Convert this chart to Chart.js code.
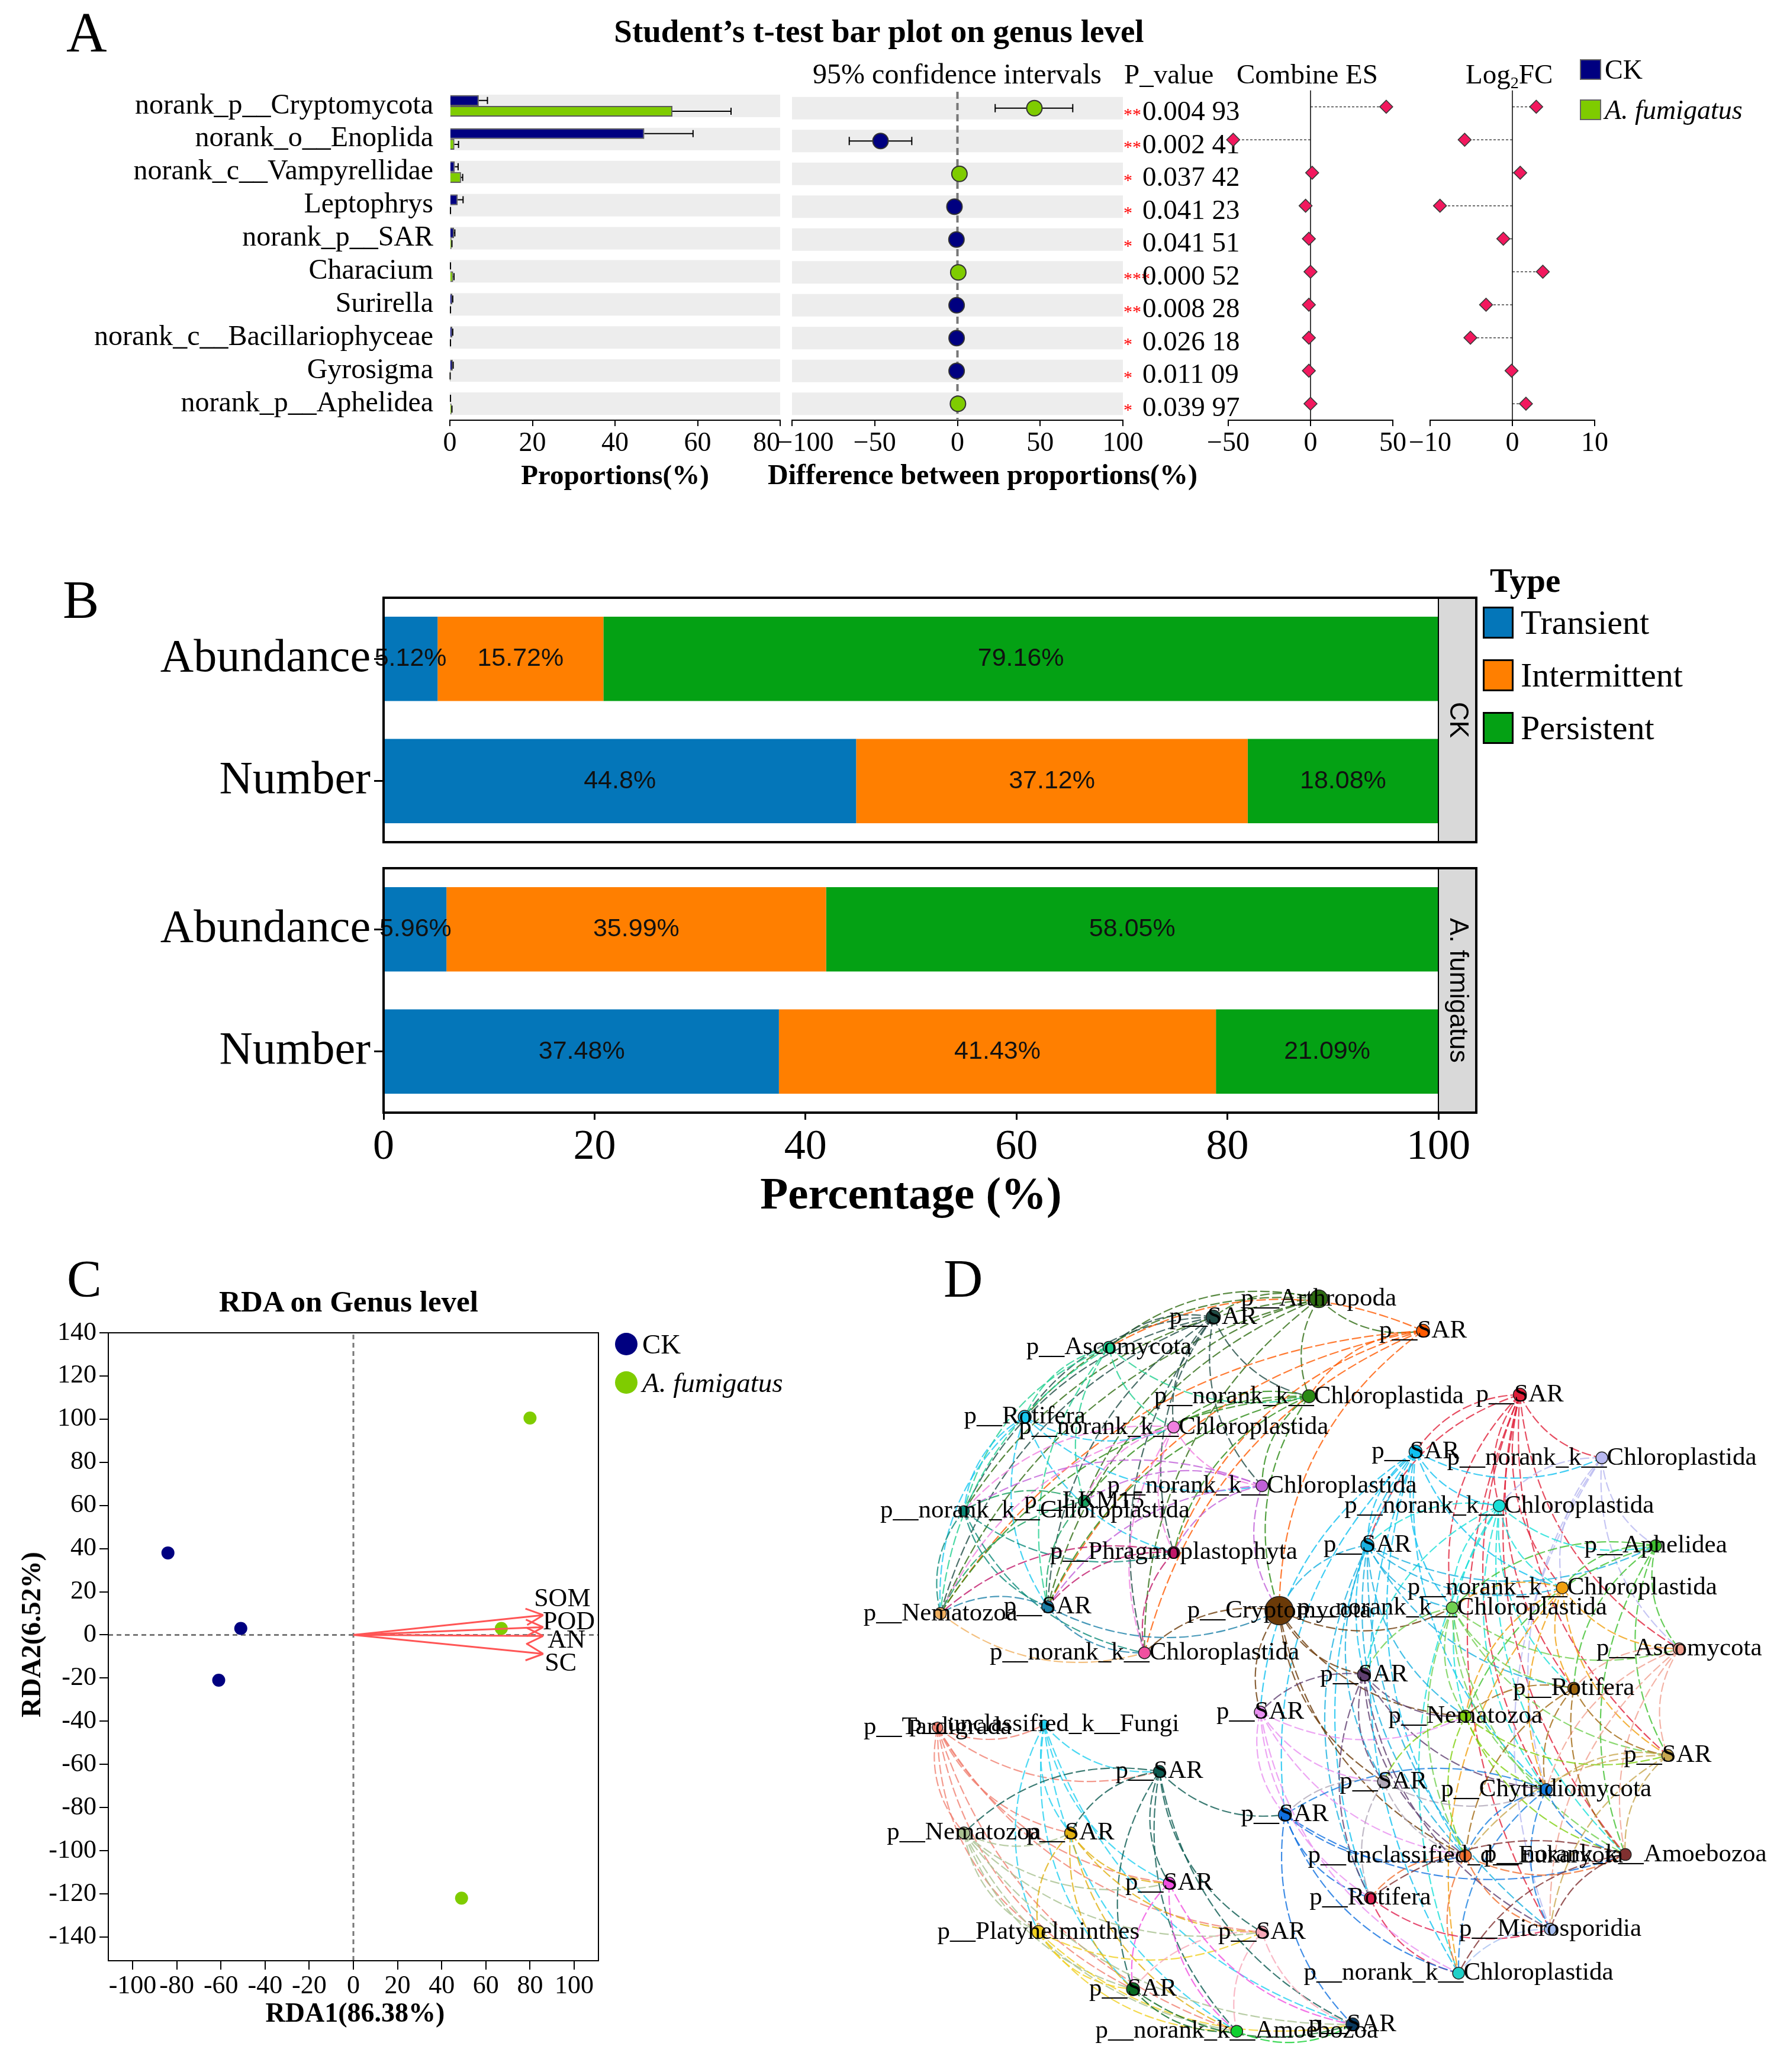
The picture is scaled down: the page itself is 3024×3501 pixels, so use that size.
<!DOCTYPE html>
<html>
<head>
<meta charset="utf-8">
<script src="https://cdn.jsdelivr.net/npm/chart.js@4.4.0/dist/chart.umd.min.js"></script>
<style>
body{margin:0;width:3024px;height:3501px;position:relative;background:#fff;overflow:hidden;
  font-family:'Liberation Serif','Times New Roman',serif;color:#000}
.t{position:absolute;line-height:1;white-space:nowrap}
</style>
</head>
<body>
<script>
// ---------- panel A: t-test on genus level ----------
const genera = ['norank_p__Cryptomycota', 'norank_o__Enoplida', 'norank_c__Vampyrellidae', 'Leptophrys',
  'norank_p__SAR', 'Characium', 'Surirella', 'norank_c__Bacillariophyceae', 'Gyrosigma', 'norank_p__Aphelidea'];
const propCK = [7.0, 47.1, 1.2, 1.9, 1.0, 0.1, 0.6, 0.6, 0.7, 0.1];
const propCKErr = [2.1, 11.8, 0.8, 1.3, 0.2, 0.05, 0.1, 0.1, 0.1, 0.05];
const propAF = [53.9, 1.1, 2.7, 0.1, 0.4, 0.8, 0.1, 0.1, 0.05, 0.4];
const propAFErr = [14.2, 1.0, 0.4, 0.05, 0.1, 0.2, 0.05, 0.05, 0.02, 0.1];
const diffEst = [46.5, -46.5, 1.2, -1.8, -0.6, 0.5, -0.5, -0.5, -0.5, 0.3];
const diffLow = [22.8, -65.4, 0.6, -2.6, -1.0, 0.2, -0.8, -0.8, -0.8, 0.1];
const diffHigh = [69.7, -27.6, 1.8, -1.0, -0.2, 0.8, -0.2, -0.2, -0.2, 0.5];
const pValues = ['0.004 93', '0.002 41', '0.037 42', '0.041 23', '0.041 51', '0.000 52', '0.008 28', '0.026 18', '0.011 09', '0.039 97'];
const pStars = ['**', '**', '*', '*', '*', '***', '**', '*', '*', '*'];
const combineES = [46, -47, 1, -3, -1, 0, -1, -1, -1, 0];
const log2FC = [2.9, -5.8, 0.95, -8.8, -1.1, 3.7, -3.2, -5.1, -0.1, 1.65];

// ---------- panel B: species type ----------
const typeCats = ['Abundance', 'Number'];
const typeNames = ['Transient', 'Intermittent', 'Persistent'];
const ckTransient = [5.12, 44.8], ckIntermittent = [15.72, 37.12], ckPersistent = [79.16, 18.08];
const afTransient = [5.96, 37.48], afIntermittent = [35.99, 41.43], afPersistent = [58.05, 21.09];

// ---------- panel C: RDA ----------
const ckRDA1 = [-84, -51, -61], ckRDA2 = [38, 3, -21];
const afRDA1 = [80, 67, 49], afRDA2 = [100.5, 3, -122];
const envNames = ['SOM', 'POD', 'AN', 'SC'];
const envX = [86, 86, 86, 86], envY = [9.2, 3.6, -0.5, -8.8];
const envLabX = [94.6, 97.6, 96.5, 93.9], envLabY = [16.5, 5.8, -2.7, -13.4];

// ---------- panel D: co-occurrence network ----------
const nodeLabels = ['p__Arthropoda', 'p__SAR', 'p__SAR', 'p__Ascomycota', 'p__norank_k__Chloroplastida', 'p__SAR',
  'p__Rotifera', 'p__norank_k__Chloroplastida', 'p__SAR', 'p__norank_k__Chloroplastida', 'p__norank_k__Chloroplastida',
  'p__LKM15', 'p__norank_k__Chloroplastida', 'p__norank_k__Chloroplastida', 'p__SAR', 'p__Aphelidea',
  'p__Phragmoplastophyta', 'p__norank_k__Chloroplastida', 'p__SAR', 'p__Nematozoa', 'p__Cryptomycota',
  'p__norank_k__Chloroplastida', 'p__norank_k__Chloroplastida', 'p__Ascomycota', 'p__SAR', 'p__Rotifera', 'p__SAR',
  'p__Nematozoa', 'p__Tardigrada', 'p__unclassified_k__Fungi', 'p__SAR', 'p__SAR', 'p__SAR', 'p__Chytridiomycota',
  'p__SAR', 'p__Nematozoa', 'p__SAR', 'p__unclassified_d__Eukaryota', 'p__norank_k__Amoebozoa', 'p__Rotifera',
  'p__Microsporidia', 'p__Platyhelminthes', 'p__SAR', 'p__SAR', 'p__norank_k__Chloroplastida', 'p__SAR',
  'p__norank_k__Amoebozoa', 'p__SAR'];
const nodeX = [808, 624, 990, 442, 791, 1159, 295, 555, 977, 1302, 709, 399, 189, 1123, 893, 1396, 555, 1233, 335, 148,
  739, 1041, 504, 1437, 887, 1253, 706, 1064, 143, 329, 1417, 530, 921, 1205, 749, 189, 375, 1064, 1343, 898, 1212,
  319, 709, 547, 1052, 484, 665, 867];
const nodeY = [51, 83, 107, 136, 222, 219, 258, 276, 319, 330, 379, 406, 423, 414, 483, 484, 496, 558, 591, 603, 598,
  593, 672, 665, 710, 734, 776, 783, 803, 798, 852, 880, 898, 912, 956, 988, 988, 1028, 1026, 1102, 1157, 1162, 1162,
  1076, 1234, 1262, 1336, 1324];
const labelShift = {12: 120};
const nodeSize = [15, 12, 11, 10, 11, 11, 11, 10, 11, 10, 10, 10, 9, 10, 11, 10, 10, 10, 10, 10, 24, 10, 10, 10, 11,
  10, 10, 10, 9, 8, 10, 10, 10, 10, 11, 10, 10, 10, 10, 10, 10, 11, 10, 10, 10, 11, 10, 11];
const nodeColor = ['#2e6b12', '#1f4b45', '#ff5a00', '#20d090', '#2a8a14', '#e0203a', '#19c8f0', '#f080e0', '#10c0f0',
  '#b8b8f0', '#c060d8', '#18a060', '#0a8a78', '#18e0d8', '#18b0e0', '#40c030', '#c0186a', '#f0a010', '#1a80a8',
  '#f0b060', '#6b3a08', '#70d050', '#f050a0', '#f0a090', '#604070', '#a06810', '#e890f0', '#80d010', '#f08070',
  '#20d0f0', '#c8a850', '#0a5a50', '#b0a8b8', '#1880e0', '#1070e0', '#a8c090', '#e0b010', '#f07030', '#803030',
  '#e02050', '#a8c0f0', '#f0d020', '#f8a8b8', '#f050e0', '#20d0c8', '#0a6a20', '#10d030', '#0a3a60'];
const edgeList = ('0-1 0-2 0-3 0-4 0-6 0-12 0-19 0-11 0-18 0-22 1-3 1-4 1-6 1-7 1-10 1-12 1-16 1-18 1-19 1-22 ' +
  '2-3 2-4 2-18 2-19 2-20 2-22 2-16 3-4 3-6 3-7 3-12 3-18 3-19 3-11 4-7 4-10 4-11 4-18 4-19 4-16 4-20 6-7 6-10 ' +
  '6-12 6-18 6-19 6-16 7-10 7-12 7-16 7-22 7-19 7-11 10-12 10-16 10-18 10-20 10-11 11-12 11-18 11-19 12-16 12-18 ' +
  '12-19 12-22 16-18 16-19 16-22 18-19 18-22 18-20 19-22 20-22 ' +
  '5-8 5-9 5-13 5-14 5-17 5-21 5-23 5-25 5-38 5-33 5-30 5-40 8-9 8-13 8-14 8-17 8-21 8-24 8-33 8-37 8-39 8-34 ' +
  '8-26 9-13 9-15 9-17 9-23 9-33 9-40 13-14 13-15 13-17 13-21 13-24 13-25 13-27 13-33 13-38 13-44 14-15 14-17 ' +
  '14-20 14-21 14-25 14-27 14-32 14-37 14-39 15-17 15-21 15-23 15-25 15-27 15-30 15-38 17-21 17-23 17-25 17-27 ' +
  '17-30 17-33 17-44 20-21 20-24 20-26 20-27 20-37 20-32 21-23 21-24 21-25 21-27 21-30 21-33 21-37 21-38 23-25 ' +
  '23-30 23-38 23-40 23-33 24-26 24-27 24-32 24-33 24-37 24-39 25-27 25-30 25-33 25-37 25-38 26-27 26-32 26-34 ' +
  '26-37 26-39 27-30 27-32 27-33 27-37 27-38 30-33 30-37 30-38 30-40 32-33 32-34 32-37 32-39 33-34 33-37 33-38 ' +
  '33-40 33-44 34-37 34-39 34-38 37-38 37-39 37-40 37-44 38-39 38-40 38-44 39-40 39-44 40-44 34-44 26-44 24-40 ' +
  '8-44 14-40 ' +
  '28-29 28-31 28-35 28-36 28-41 28-43 28-45 28-46 28-42 29-31 29-36 29-41 29-43 29-45 29-46 29-47 31-35 31-36 ' +
  '31-43 31-45 31-46 31-47 31-42 35-36 35-41 35-43 35-45 35-46 35-47 35-42 36-41 36-43 36-42 36-45 36-46 41-45 ' +
  '41-46 41-47 41-42 42-45 42-46 42-47 43-45 43-46 43-47 45-46 45-47 46-47 34-47 31-34')
  .split(' ').map(s => s.split('-').map(Number));

const CK_COLOR = '#000080', AF_COLOR = '#7fcc00';
const TYPE_COLORS = ['#0476b9', '#ff7f00', '#04a114'];
const SERIF = "'Liberation Serif', 'Times New Roman', serif";

Chart.defaults.font.family = SERIF;
Chart.defaults.color = '#000';
Chart.defaults.animation = false;
Chart.defaults.maintainAspectRatio = false;
Chart.defaults.plugins.legend.display = false;
Chart.defaults.plugins.tooltip.enabled = false;

// canvas whose plot area sits on [x0,y0,x1,y1]; m = [top,right,bottom,left] room around it
function mount(plot, m) {
  const d = document.createElement('div');
  d.style.cssText = `position:absolute;left:${plot[0] - m[3]}px;top:${plot[1] - m[0]}px;` +
    `width:${plot[2] - plot[0] + m[1] + m[3]}px;height:${plot[3] - plot[1] + m[0] + m[2]}px`;
  const c = document.createElement('canvas');
  d.appendChild(c);
  document.body.appendChild(d);
  return c;
}
const pad = (m, yW, xH) => ({top: m[0], right: m[1], bottom: m[2] - xH, left: m[3] - yW});
const fitY = w => s => { s.width = w; s.paddingTop = 0; s.paddingBottom = 0; };
const fitX = h => s => { s.height = h; s.paddingLeft = 0; s.paddingRight = 0; };
const minus = v => (v < 0 ? '\u2212' + (-v) : '' + v);
// first/last tick of the two left plots are nudged inward so "80" and "-100" don't collide
const EN = '\u2002';

function label(html, x, y, size, o = {}) {
  const d = document.createElement('div');
  d.className = 't';
  d.innerHTML = html;
  d.style.left = x + 'px';
  d.style.top = y + 'px';
  d.style.fontSize = size + 'px';
  if (o.bold) d.style.fontWeight = 'bold';
  if (o.italic) d.style.fontStyle = 'italic';
  const ax = o.align === 'c' ? '-50%' : o.align === 'r' ? '-100%' : '0';
  d.style.transform = `translate(${ax},-50%)` + (o.rot ? ` rotate(${o.rot}deg)` : '');
  document.body.appendChild(d);
}
function swatch(x0, y0, x1, y1, bg, bd, bw, round) {
  const d = document.createElement('div');
  d.style.cssText = `position:absolute;left:${x0}px;top:${y0}px;width:${x1 - x0}px;height:${y1 - y0}px;` +
    `background:${bg};border:${bw}px solid ${bd};box-sizing:border-box;${round ? 'border-radius:50%' : ''}`;
  document.body.appendChild(d);
}

// ---------- panel A plugins ----------
const bands = {
  id: 'bands',
  beforeDatasetsDraw(ch) {
    const {ctx, chartArea: a} = ch;
    ctx.save();
    ctx.fillStyle = '#ededed';
    genera.forEach((g, i) => {
      const y = ch.scales.y.getPixelForValue(i);
      ctx.fillRect(a.left, y - 19, a.right - a.left, 38);
    });
    ctx.restore();
  }
};
const barErr = {
  id: 'barErr',
  afterDatasetsDraw(ch) {
    const {ctx} = ch;
    ctx.save();
    ctx.strokeStyle = '#000';
    ctx.lineWidth = 2;
    ch.data.datasets.forEach((ds, di) => {
      ch.getDatasetMeta(di).data.forEach((bar, i) => {
        const x1 = ch.scales.x.getPixelForValue(ds.data[i] + ds.err[i]);
        ctx.beginPath();
        ctx.moveTo(bar.x, bar.y);
        ctx.lineTo(x1, bar.y);
        ctx.moveTo(x1, bar.y - 6);
        ctx.lineTo(x1, bar.y + 6);
        ctx.stroke();
      });
    });
    ctx.restore();
  }
};
const ciBars = {
  id: 'ciBars',
  beforeDatasetsDraw(ch) {
    const {ctx} = ch;
    const x = ch.scales.x, y = ch.scales.y;
    ctx.save();
    ctx.strokeStyle = '#000';
    ctx.lineWidth = 2;
    diffEst.forEach((v, i) => {
      const yy = y.getPixelForValue(i), xl = x.getPixelForValue(diffLow[i]), xh = x.getPixelForValue(diffHigh[i]);
      ctx.beginPath();
      ctx.moveTo(xl, yy); ctx.lineTo(xh, yy);
      ctx.moveTo(xl, yy - 7); ctx.lineTo(xl, yy + 7);
      ctx.moveTo(xh, yy - 7); ctx.lineTo(xh, yy + 7);
      ctx.stroke();
    });
    ctx.restore();
  }
};
const pText = {
  id: 'pText',
  afterDraw(ch) {
    const {ctx, chartArea: a} = ch;
    ctx.save();
    pValues.forEach((p, i) => {
      const y = ch.scales.y.getPixelForValue(i);
      ctx.fillStyle = '#ff0000';
      ctx.font = `30px ${SERIF}`;
      ctx.textAlign = 'left';
      ctx.textBaseline = 'alphabetic';
      ctx.fillText(pStars[i], a.right + 1, y + 20);
      ctx.fillStyle = '#000';
      ctx.font = `47px ${SERIF}`;
      ctx.textBaseline = 'middle';
      ctx.fillText(p, a.right + 33, y + 8);
    });
    ctx.restore();
  }
};
const stems = {
  id: 'stems',
  beforeDatasetsDraw(ch) {
    const {ctx} = ch;
    const x0 = ch.scales.x.getPixelForValue(0);
    ctx.save();
    ctx.strokeStyle = '#444';
    ctx.lineWidth = 1.5;
    ctx.setLineDash([4, 3]);
    ch.getDatasetMeta(0).data.forEach(pt => {
      ctx.beginPath();
      ctx.moveTo(x0, pt.y);
      ctx.lineTo(pt.x, pt.y);
      ctx.stroke();
    });
    ctx.restore();
  }
};
function axisA(min, max, step, fmt) {
  return {
    min, max, afterFit: fitX(60),
    ticks: {stepSize: step, padding: 2, font: {size: 46}, callback: fmt || minus, maxRotation: 0, autoSkip: false},
    grid: {drawOnChartArea: false, tickLength: 10, color: '#000', lineWidth: 2},
    border: {color: '#000', width: 2}
  };
}

// proportions
{
  const m = [11, 50, 70, 760];
  new Chart(mount([760, 151, 1318, 710], m), {
    type: 'bar',
    data: {
      labels: genera,
      datasets: [
        {label: 'CK', data: propCK, err: propCKErr, backgroundColor: CK_COLOR, borderColor: '#5a5a5a', borderWidth: 2},
        {label: 'A. fumigatus', data: propAF, err: propAFErr, backgroundColor: AF_COLOR, borderColor: '#5a5a5a', borderWidth: 2}
      ]
    },
    options: {
      indexAxis: 'y',
      layout: {padding: pad(m, 760, 60)},
      datasets: {bar: {categoryPercentage: 0.65, barPercentage: 1}},
      scales: {
        y: {afterFit: fitY(760), grid: {display: false}, border: {display: false},
          ticks: {autoSkip: false, padding: 20, font: {size: 48}}},
        x: axisA(0, 80, 20, v => (v === 80 ? '80' + EN + EN : '' + v))
      }
    },
    plugins: [bands, barErr]
  });
}
// confidence intervals + p values
{
  const m = [11, 230, 70, 70];
  new Chart(mount([1338, 151, 1897, 710], m), {
    type: 'scatter',
    data: {
      datasets: [
        {data: diffEst.map((v, i) => ({x: v, y: i})), pointRadius: 13,
          pointBackgroundColor: diffEst.map(v => (v > 0 ? AF_COLOR : CK_COLOR)),
          pointBorderColor: '#333', pointBorderWidth: 2, clip: false, order: 0},
        {type: 'line', data: [{x: 0, y: -0.5}, {x: 0, y: 9.5}], borderColor: '#777', borderWidth: 4,
          borderDash: [12, 7], pointRadius: 0, order: 1}
      ]
    },
    options: {
      layout: {padding: pad(m, 0, 60)},
      scales: {x: axisA(-100, 100, 50, v => (v === -100 ? EN + EN + minus(v) : minus(v))),
        y: {display: false, min: -0.5, max: 9.5, reverse: true}}
    },
    plugins: [bands, ciBars, pText]
  });
}
// lollipops
function lollipop(plot, vals, lim, step) {
  const m = [11, 45, 70, 45];
  new Chart(mount(plot, m), {
    type: 'scatter',
    data: {
      datasets: [
        {data: vals.map((v, i) => ({x: v, y: i})), pointStyle: 'rectRot', pointRadius: 11,
          pointBackgroundColor: '#f2185e', pointBorderColor: '#3a3a3a', pointBorderWidth: 1.5, clip: false, order: 0},
        {type: 'line', data: [{x: 0, y: -0.5}, {x: 0, y: 9.5}], borderColor: '#000', borderWidth: 1.5,
          pointRadius: 0, order: 1}
      ]
    },
    options: {
      layout: {padding: pad(m, 0, 60)},
      scales: {x: axisA(-lim, lim, step), y: {display: false, min: -0.5, max: 9.5, reverse: true}}
    },
    plugins: [stems]
  });
}
lollipop([2075, 151, 2353, 710], combineES, 50, 50);
lollipop([2416, 151, 2694, 710], log2FC, 10, 10);

// ---------- panel B ----------
const segText = {
  id: 'segText',
  afterDatasetsDraw(ch) {
    const {ctx} = ch;
    ctx.save();
    ctx.font = '43px "Liberation Sans", Arial, sans-serif';
    ctx.fillStyle = '#111';
    ctx.textAlign = 'center';
    ctx.textBaseline = 'middle';
    ch.data.datasets.forEach((ds, di) => {
      ch.getDatasetMeta(di).data.forEach((el, i) => ctx.fillText(ds.data[i] + '%', (el.x + el.base) / 2, el.y));
    });
    ctx.restore();
  }
};
const facetFrame = name => ({
  id: 'facetFrame',
  afterDraw(ch) {
    const {ctx, chartArea: a} = ch;
    const sw = 64;
    ctx.save();
    ctx.fillStyle = '#d9d9d9';
    ctx.fillRect(a.right, a.top, sw, a.bottom - a.top);
    ctx.strokeStyle = '#000';
    ctx.lineWidth = 4;
    ctx.strokeRect(a.left, a.top, a.right - a.left + sw, a.bottom - a.top);
    ctx.lineWidth = 2;
    ctx.beginPath();
    ctx.moveTo(a.right, a.top);
    ctx.lineTo(a.right, a.bottom);
    ctx.stroke();
    ctx.translate(a.right + sw / 2, (a.top + a.bottom) / 2);
    ctx.rotate(Math.PI / 2);
    ctx.fillStyle = '#000';
    ctx.font = '44px "Liberation Sans", Arial, sans-serif';
    ctx.textAlign = 'center';
    ctx.textBaseline = 'middle';
    ctx.fillText(name, 0, 0);
    ctx.restore();
  }
});
function facet(plot, m, xH, series, name, showX) {
  new Chart(mount(plot, m), {
    type: 'bar',
    data: {
      labels: typeCats,
      datasets: series.map((d, k) => ({label: typeNames[k], data: d, backgroundColor: TYPE_COLORS[k], borderWidth: 0}))
    },
    options: {
      indexAxis: 'y',
      layout: {padding: pad(m, 648, xH)},
      datasets: {bar: {categoryPercentage: 0.69, barPercentage: 1}},
      scales: {
        y: {stacked: true, afterFit: fitY(648), border: {display: false},
          grid: {offset: false, drawOnChartArea: false, tickLength: 16, color: '#000', lineWidth: 3},
          ticks: {padding: 6, font: {size: 78}}},
        x: {stacked: true, min: 0, max: 100, display: showX, afterFit: fitX(xH), border: {display: false},
          grid: {drawOnChartArea: false, tickLength: 12, color: '#000', lineWidth: 3},
          ticks: {stepSize: 20, padding: 4, font: {size: 72}, maxRotation: 0}}
      }
    },
    plugins: [segText, facetFrame(name)]
  });
}
facet([648, 1010, 2430, 1423], [10, 80, 10, 648], 0, [ckTransient, ckIntermittent, ckPersistent], 'CK', false);
facet([648, 1467, 2430, 1880], [10, 80, 140, 648], 130, [afTransient, afIntermittent, afPersistent], 'A. fumigatus', true);

// ---------- panel C ----------
const frame = {
  id: 'frame',
  afterDraw(ch) {
    const {ctx, chartArea: a} = ch;
    ctx.save();
    ctx.strokeStyle = '#000';
    ctx.lineWidth = 2;
    ctx.strokeRect(a.left, a.top, a.right - a.left, a.bottom - a.top);
    ctx.restore();
  }
};
const arrows = {
  id: 'arrows',
  afterDatasetsDraw(ch) {
    const {ctx} = ch;
    const x = ch.scales.x, y = ch.scales.y;
    const ox = x.getPixelForValue(0), oy = y.getPixelForValue(0);
    ctx.save();
    envNames.forEach((n, i) => {
      const tx = x.getPixelForValue(envX[i]), ty = y.getPixelForValue(envY[i]);
      const ang = Math.atan2(ty - oy, tx - ox);
      ctx.strokeStyle = '#ff5555';
      ctx.lineWidth = 3;
      ctx.beginPath();
      ctx.moveTo(ox, oy);
      ctx.lineTo(tx, ty);
      for (const s of [-1, 1]) {
        ctx.moveTo(tx, ty);
        ctx.lineTo(tx - 32 * Math.cos(ang + s * 0.45), ty - 32 * Math.sin(ang + s * 0.45));
      }
      ctx.stroke();
      ctx.fillStyle = '#000';
      ctx.font = `44px ${SERIF}`;
      ctx.textAlign = 'center';
      ctx.textBaseline = 'middle';
      ctx.fillText(n, x.getPixelForValue(envLabX[i]), y.getPixelForValue(envLabY[i]));
    });
    ctx.restore();
  }
};
{
  const m = [40, 40, 70, 183];
  const tickGrid = {drawOnChartArea: false, tickLength: 15, color: '#000', lineWidth: 2};
  new Chart(mount([183, 2252, 1011, 3313], m), {
    type: 'scatter',
    data: {
      datasets: [
        {label: 'CK', data: ckRDA1.map((v, i) => ({x: v, y: ckRDA2[i]})), pointRadius: 11,
          pointBackgroundColor: CK_COLOR, pointBorderWidth: 0, order: 0},
        {label: 'A. fumigatus', data: afRDA1.map((v, i) => ({x: v, y: afRDA2[i]})), pointRadius: 11,
          pointBackgroundColor: AF_COLOR, pointBorderWidth: 0, order: 0},
        {type: 'line', data: [{x: -111, y: 0}, {x: 111, y: 0}], borderColor: '#777', borderWidth: 3,
          borderDash: [8, 6], pointRadius: 0, order: 2},
        {type: 'line', data: [{x: 0, y: -151}, {x: 0, y: 140}], borderColor: '#777', borderWidth: 3,
          borderDash: [8, 6], pointRadius: 0, order: 2}
      ]
    },
    options: {
      layout: {padding: pad(m, 183, 60)},
      scales: {
        x: {min: -111, max: 111, afterFit: fitX(60), border: {display: false}, grid: tickGrid,
          ticks: {stepSize: 20, includeBounds: false, padding: 2, font: {size: 44}, maxRotation: 0, autoSkip: false}},
        y: {min: -151, max: 140, afterFit: fitY(183), border: {display: false}, grid: tickGrid,
          ticks: {stepSize: 20, includeBounds: false, padding: 5, font: {size: 44}, autoSkip: false}}
      }
    },
    plugins: [frame, arrows]
  });
}

// ---------- panel D ----------
const edges = {
  id: 'edges',
  beforeDatasetsDraw(ch) {
    const {ctx} = ch;
    const x = ch.scales.x, y = ch.scales.y;
    ctx.save();
    ctx.lineWidth = 2.2;
    ctx.globalAlpha = 0.8;
    ctx.setLineDash([16, 5]);
    edgeList.forEach(([a, b]) => {
      const px = x.getPixelForValue(nodeX[a]), py = y.getPixelForValue(nodeY[a]);
      const qx = x.getPixelForValue(nodeX[b]), qy = y.getPixelForValue(nodeY[b]);
      const cx = (px + qx) / 2 - (qy - py) * 0.25, cy = (py + qy) / 2 + (qx - px) * 0.25;
      ctx.strokeStyle = nodeColor[a];
      ctx.beginPath();
      ctx.moveTo(px, py);
      ctx.quadraticCurveTo(cx, cy, qx, qy);
      ctx.stroke();
    });
    ctx.restore();
  }
};
const nodeText = {
  id: 'nodeText',
  afterDatasetsDraw(ch) {
    const {ctx} = ch;
    ctx.save();
    ctx.fillStyle = '#000';
    ctx.font = `43px ${SERIF}`;
    ctx.textAlign = 'center';
    ctx.textBaseline = 'middle';
    ch.getDatasetMeta(0).data.forEach((pt, i) => ctx.fillText(nodeLabels[i], pt.x + (labelShift[i] || 0), pt.y));
    ctx.restore();
  }
};
new Chart(mount([1420, 2120, 3024, 3501], [0, 0, 0, 0]), {
  type: 'scatter',
  data: {
    datasets: [{data: nodeX.map((v, i) => ({x: v, y: nodeY[i]})), pointRadius: nodeSize,
      pointBackgroundColor: nodeColor, pointBorderColor: '#222', pointBorderWidth: 1.5, clip: false}]
  },
  options: {
    layout: {padding: 0},
    scales: {x: {display: false, min: 0, max: 1604}, y: {display: false, min: 0, max: 1381, reverse: true}}
  },
  plugins: [edges, nodeText]
});

// ---------- static texts & legends ----------
label('A', 112, 55, 95);
label('Student\u2019s t-test bar plot on genus level', 1485, 52, 55, {bold: true, align: 'c'});
label('95% confidence intervals', 1617, 125, 48, {align: 'c'});
label('P_value', 1899, 125, 47);
label('Combine ES', 2089, 125, 47);
label('Log<span style="font-size:60%;position:relative;top:0.3em">2</span>FC', 2476, 125, 47);
swatch(2669, 100, 2705, 135, CK_COLOR, '#666', 2);
label('CK', 2711, 118, 46);
swatch(2669, 168, 2705, 203, AF_COLOR, '#666', 2);
label('A. fumigatus', 2711, 186, 46, {italic: true});
label('Proportions(%)', 1039, 802, 47, {bold: true, align: 'c'});
label('Difference between proportions(%)', 1660, 802, 48, {bold: true, align: 'c'});

label('B', 106, 1013, 92);
label('Type', 2517, 980, 57, {bold: true});
[1052, 1141, 1230].forEach((cy, k) => {
  swatch(2505, cy - 27, 2557, cy + 27, TYPE_COLORS[k], '#000', 3);
  label(typeNames[k], 2569, cy, 58);
});
label('Percentage (%)', 1539, 2016, 77, {bold: true, align: 'c'});

label('C', 113, 2161, 88);
label('RDA on Genus level', 589, 2199, 51, {bold: true, align: 'c'});
label('RDA2(6.52%)', 53, 2762, 46, {bold: true, align: 'c', rot: -90});
label('RDA1(86.38%)', 600, 3401, 46, {bold: true, align: 'c'});
swatch(1039, 2252, 1077, 2290, CK_COLOR, CK_COLOR, 0, true);
label('CK', 1085, 2271, 47);
swatch(1039, 2317, 1077, 2355, AF_COLOR, AF_COLOR, 0, true);
label('A. fumigatus', 1085, 2336, 47, {italic: true});

label('D', 1594, 2160, 92);
</script>
</body>
</html>
